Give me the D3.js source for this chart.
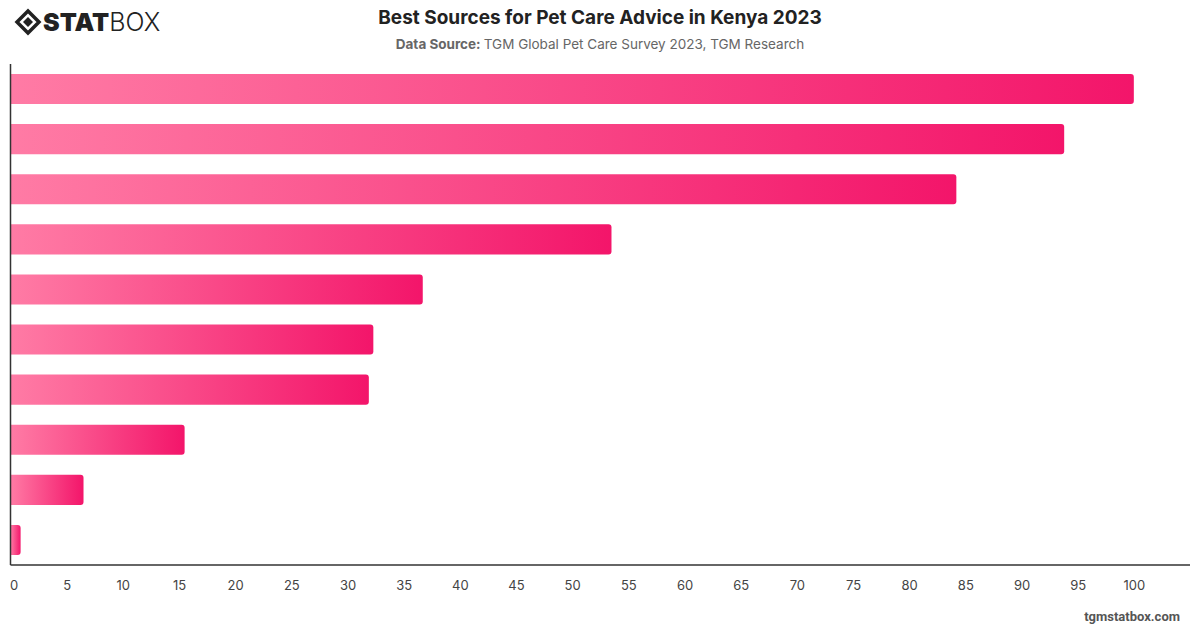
<!DOCTYPE html>
<html>
<head>
<meta charset="utf-8">
<script src="https://cdn.jsdelivr.net/npm/d3@7"></script>
<style>
  body { margin: 0; background: #fff; }
  svg { display: block; font-family: Inter, 'Noto Sans', sans-serif; }
</style>
</head>
<body>
<div id="chart"></div>
<script>
'use strict';

// Data
var categories = ['Source 1', 'Source 2', 'Source 3', 'Source 4', 'Source 5',
                  'Source 6', 'Source 7', 'Source 8', 'Source 9', 'Source 10'];
var values = [100, 93.8, 84.2, 53.5, 36.7, 32.3, 31.9, 15.5, 6.5, 0.9];
var tickValues = [0, 5, 10, 15, 20, 25, 30, 35, 40, 45, 50, 55, 60, 65, 70, 75, 80, 85, 90, 95, 100];

var width = 1200, height = 628;
var plotLeft = 10.5, plotRight = 1190, plotTop = 64, plotBottom = 565;

var svg = d3.select('#chart')
            .append('svg')
            .attr('width', width)
            .attr('height', height);

var defs = svg.append('defs');
var grad = defs.append('linearGradient')
               .attr('id', 'barGrad')
               .attr('x1', '0%').attr('x2', '100%')
               .attr('y1', '0%').attr('y2', '0%');
grad.append('stop').attr('offset', '0%').attr('stop-color', '#ff7ba5');
grad.append('stop').attr('offset', '100%').attr('stop-color', '#f3156a');

var x = d3.scaleLinear().domain([0, 105]).range([plotLeft, plotRight]);
var y = d3.scaleBand()
          .domain(categories)
          .range([plotTop, plotBottom])
          .paddingInner(0.4)
          .paddingOuter(0.2);

// Bars, right corners rounded
var r = 3;
svg.append('g')
   .selectAll('path')
   .data(values)
   .enter()
   .append('path')
   .attr('fill', 'url(#barGrad)')
   .attr('d', function(d, i) {
     var x0 = x(0), x1 = x(d), y0 = y(categories[i]), h = y.bandwidth();
     var rr = Math.min(r, (x1 - x0) / 2);
     return 'M' + x0 + ',' + y0 +
            'H' + (x1 - rr) +
            'Q' + x1 + ',' + y0 + ' ' + x1 + ',' + (y0 + rr) +
            'V' + (y0 + h - rr) +
            'Q' + x1 + ',' + (y0 + h) + ' ' + (x1 - rr) + ',' + (y0 + h) +
            'H' + x0 + 'Z';
   });

// Axes
var xAxis = d3.axisBottom(x).tickValues(tickValues).tickSize(0).tickPadding(16);
var gx = svg.append('g')
            .attr('transform', 'translate(0,' + plotBottom + ')')
            .call(xAxis);
gx.select('.domain').remove();
gx.selectAll('text')
  .attr('fill', '#444')
  .attr('font-size', 13)
  .attr('dx', function(d) { return d === 0 ? 3 : 0; })
  .style('font-family', 'Inter, sans-serif');

svg.append('line')
   .attr('x1', plotLeft).attr('x2', plotRight)
   .attr('y1', plotBottom).attr('y2', plotBottom)
   .attr('stroke', '#333').attr('stroke-width', 1.5);

svg.append('line')
   .attr('x1', plotLeft).attr('x2', plotLeft)
   .attr('y1', plotTop).attr('y2', plotBottom)
   .attr('stroke', '#333').attr('stroke-width', 1.5);

// Title
svg.append('text')
   .attr('x', 600).attr('y', 24)
   .attr('text-anchor', 'middle')
   .attr('font-size', 19)
   .attr('font-weight', 700)
   .attr('fill', '#222')
   .text('Best Sources for Pet Care Advice in Kenya 2023');

var sub = svg.append('text')
             .attr('x', 600).attr('y', 49)
             .attr('text-anchor', 'middle')
             .attr('font-size', 13.5)
             .attr('fill', '#666');
sub.append('tspan').attr('font-weight', 700).text('Data Source: ');
sub.append('tspan').text('TGM Global Pet Care Survey 2023, TGM Research');

// Logo
var logo = svg.append('g').attr('transform', 'translate(28,22)');
logo.append('path')
    .attr('d', 'M0,-11 L11,0 L0,11 L-11,0 Z')
    .attr('fill', 'none').attr('stroke', '#222').attr('stroke-width', 3.5);
logo.append('path')
    .attr('d', 'M0,-5 L5,0 L0,5 L-5,0 Z')
    .attr('fill', '#222');
svg.append('text')
   .attr('x', 43).attr('y', 31)
   .attr('font-size', 25)
   .attr('font-weight', 900)
   .attr('fill', '#222')
   .style('font-family', 'Inter, sans-serif')
   .text('STAT')
   .append('tspan')
   .attr('font-weight', 300)
   .text('BOX');

// Watermark
svg.append('text')
   .attr('x', 1180).attr('y', 621)
   .attr('text-anchor', 'end')
   .attr('font-size', 13)
   .attr('font-weight', 700)
   .attr('fill', '#555')
   .style('font-family', 'Roboto, sans-serif')
   .text('tgmstatbox.com');
</script>
</body>
</html>
